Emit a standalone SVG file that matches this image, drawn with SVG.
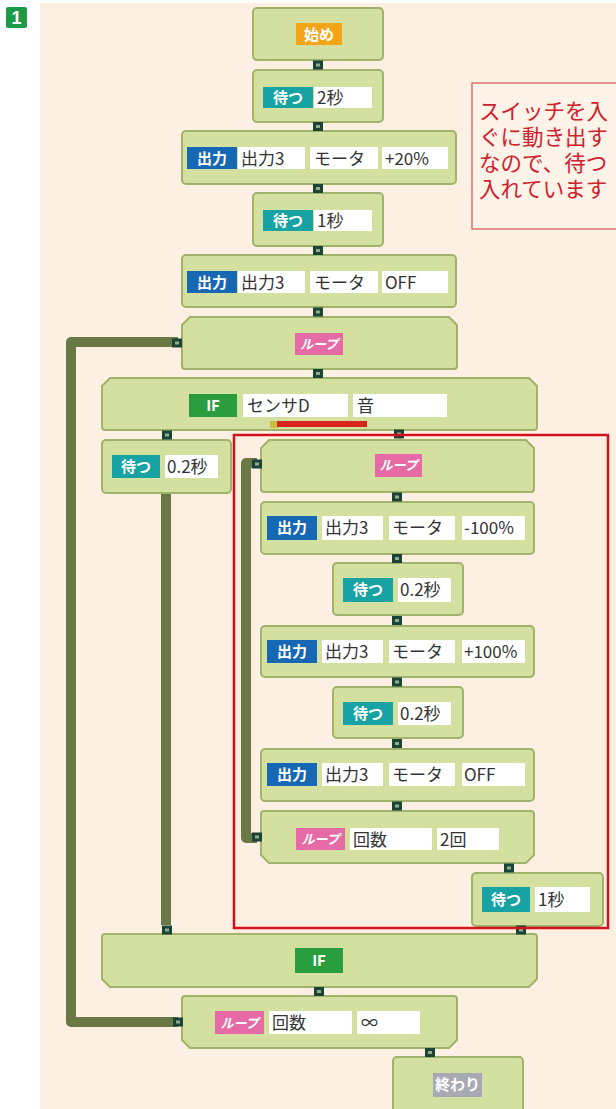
<svg xmlns="http://www.w3.org/2000/svg" xmlns:xlink="http://www.w3.org/1999/xlink" width="616" height="1109" viewBox="0 0 616 1109">
<defs>
<style>
.blk{fill:#d3e09f;stroke:#a0b36b;stroke-width:2}
.val{fill:#ffffff}
.vt{font-family:"Noto Sans CJK JP","Noto Sans",sans-serif;font-size:17px;fill:#333333}
.lt{font-family:"Noto Sans CJK JP","Noto Sans",sans-serif;font-size:15px;fill:#ffffff;font-weight:bold;text-anchor:middle}
.lp{font-size:13px;font-style:italic}
.wait{fill:#17a3a3}
.out{fill:#1668b4}
.loop{fill:#e66aa5}
.iff{fill:#2a9d3e}
.wire{fill:none;stroke:#687946;stroke-width:10;stroke-linejoin:round}
.note{font-family:"Noto Sans CJK JP","Noto Sans",sans-serif;font-size:21.5px;fill:#d0202a}
</style>
<g id="cn"><rect x="-5" y="-4.5" width="10" height="9" fill="#1b4436"/><rect x="-2" y="-1.5" width="4" height="3" fill="#8fb08f"/></g>
</defs>
<rect x="0" y="0" width="616" height="1109" fill="#ffffff"/>
<rect x="40" y="3" width="576" height="1106" fill="#fdf0e3"/>
<g id="badge"><rect x="6" y="7" width="21" height="21" rx="2" fill="#1d9a48"/><text x="16.5" y="24" font-family="Liberation Sans,sans-serif" font-size="18" font-weight="bold" fill="#fff" text-anchor="middle">1</text></g>

<g id="note">
<rect x="472" y="83" width="160" height="146" fill="#fdf3e9" stroke="#d35353" stroke-width="1.2"/>
<text class="note" x="479" y="119"><tspan x="479" y="119">スイッチを入</tspan><tspan x="479" y="145">ぐに動き出す</tspan><tspan x="479" y="171">なので、待つ</tspan><tspan x="479" y="197">入れています</tspan></text>
</g>

<g id="wires">
<path class="wire" d="M178,342 H71 V1022 H178"/>
<path class="wire" d="M166,493 V925"/>
<path class="wire" d="M257,463 H246 V838 H257"/>
</g>

<g id="b1"><rect class="blk" x="253" y="8" width="130" height="52" rx="4"/><rect x="296" y="23" width="46" height="22" fill="#f2a516"/><text class="lt" x="319" y="39.5" font-size="14">始め</text></g>

<g id="b2"><rect class="blk" x="253" y="70" width="130" height="52" rx="4"/><rect class="wait" x="263" y="87" width="50" height="21"/><text class="lt" x="288" y="103">待つ</text><rect class="val" x="314" y="87" width="58" height="21"/><text class="vt" x="317" y="104">2秒</text></g>

<g id="b3"><rect class="blk" x="182" y="131" width="274" height="53" rx="4"/><rect class="out" x="187" y="147" width="50" height="22"/><text class="lt" x="212" y="164">出力</text><rect class="val" x="238" y="147" width="67" height="22"/><text class="vt" x="241" y="165">出力3</text><rect class="val" x="310" y="147" width="68" height="22"/><text class="vt" x="314" y="165">モータ</text><rect class="val" x="382" y="147" width="66" height="22"/><text class="vt" x="385" y="165">+20%</text></g>

<g id="b4"><rect class="blk" x="253" y="193" width="130" height="53" rx="4"/><rect class="wait" x="263" y="210" width="50" height="21"/><text class="lt" x="288" y="226">待つ</text><rect class="val" x="314" y="210" width="58" height="21"/><text class="vt" x="317" y="227">1秒</text></g>

<g id="b5"><rect class="blk" x="182" y="255" width="274" height="52" rx="4"/><rect class="out" x="187" y="271" width="50" height="22"/><text class="lt" x="212" y="288">出力</text><rect class="val" x="238" y="271" width="67" height="22"/><text class="vt" x="241" y="289">出力3</text><rect class="val" x="310" y="271" width="68" height="22"/><text class="vt" x="314" y="289">モータ</text><rect class="val" x="382" y="271" width="66" height="22"/><text class="vt" x="385" y="289">OFF</text></g>

<g id="b6"><path class="blk" d="M182,325 L190,317 H449 L457,325 V366 Q457,369 454,369 H185 Q182,369 182,366 Z"/><rect class="loop" x="295" y="333" width="48" height="22"/><text class="lt lp" x="319" y="349">ループ</text></g>

<g id="b7"><path class="blk" d="M102,386 L110,378 H529 L537,386 V427 Q537,430 534,430 H105 Q102,430 102,427 Z"/><rect class="iff" x="189" y="394" width="48" height="23"/><text class="lt" x="213" y="411">IF</text><rect class="val" x="243" y="394" width="105" height="23"/><text class="vt" x="247" y="412">センサD</text><rect class="val" x="353" y="394" width="94" height="23"/><text class="vt" x="357" y="412">音</text><rect x="270" y="421" width="8" height="7" fill="#c8c040"/><rect x="277" y="421" width="90" height="6" fill="#d8261e"/></g>

<g id="b8"><rect class="blk" x="102" y="440" width="129" height="53" rx="4"/><rect class="wait" x="112" y="455" width="48" height="23"/><text class="lt" x="136" y="472">待つ</text><rect class="val" x="165" y="455" width="53" height="23"/><text class="vt" x="167" y="473">0.2秒</text></g>

<g id="b9"><path class="blk" d="M261,448 L269,440 H526 L534,448 V489 Q534,492 531,492 H264 Q261,492 261,489 Z"/><rect class="loop" x="375" y="454" width="47" height="23"/><text class="lt lp" x="398.5" y="470">ループ</text></g>

<g id="b10"><rect class="blk" x="261" y="502" width="273" height="52" rx="4"/><rect class="out" x="267" y="516" width="50" height="24"/><text class="lt" x="292" y="533">出力</text><rect class="val" x="322" y="516" width="61" height="24"/><text class="vt" x="325" y="534">出力3</text><rect class="val" x="389" y="516" width="66" height="24"/><text class="vt" x="392" y="534">モータ</text><rect class="val" x="462" y="516" width="63" height="24"/><text class="vt" x="464" y="534">-100%</text></g>

<g id="b11"><rect class="blk" x="333" y="563" width="130" height="52" rx="4"/><rect class="wait" x="343" y="578" width="50" height="24"/><text class="lt" x="368" y="595">待つ</text><rect class="val" x="398" y="578" width="53" height="24"/><text class="vt" x="400" y="596">0.2秒</text></g>

<g id="b12"><rect class="blk" x="261" y="626" width="273" height="51" rx="4"/><rect class="out" x="267" y="640" width="50" height="23"/><text class="lt" x="292" y="657">出力</text><rect class="val" x="322" y="640" width="61" height="23"/><text class="vt" x="325" y="658">出力3</text><rect class="val" x="389" y="640" width="66" height="23"/><text class="vt" x="392" y="658">モータ</text><rect class="val" x="462" y="640" width="63" height="23"/><text class="vt" x="464" y="658">+100%</text></g>

<g id="b13"><rect class="blk" x="333" y="687" width="130" height="51" rx="4"/><rect class="wait" x="343" y="702" width="50" height="23"/><text class="lt" x="368" y="719">待つ</text><rect class="val" x="398" y="702" width="53" height="23"/><text class="vt" x="400" y="720">0.2秒</text></g>

<g id="b14"><rect class="blk" x="261" y="749" width="273" height="52" rx="4"/><rect class="out" x="267" y="763" width="50" height="23"/><text class="lt" x="292" y="780">出力</text><rect class="val" x="322" y="763" width="61" height="23"/><text class="vt" x="325" y="781">出力3</text><rect class="val" x="389" y="763" width="66" height="23"/><text class="vt" x="392" y="781">モータ</text><rect class="val" x="462" y="763" width="63" height="23"/><text class="vt" x="464" y="781">OFF</text></g>

<g id="b15"><path class="blk" d="M261,814 Q261,811 264,811 H531 Q534,811 534,814 V855 L526,863 H269 L261,855 Z"/><rect class="loop" x="296" y="828" width="49" height="22"/><text class="lt lp" x="320.5" y="844">ループ</text><rect class="val" x="350" y="828" width="82" height="22"/><text class="vt" x="353" y="846">回数</text><rect class="val" x="437" y="828" width="62" height="22"/><text class="vt" x="440" y="846">2回</text></g>

<g id="b16"><rect class="blk" x="472" y="873" width="131" height="53" rx="4"/><rect class="wait" x="482" y="887" width="48" height="25"/><text class="lt" x="506" y="905">待つ</text><rect class="val" x="535" y="887" width="55" height="25"/><text class="vt" x="538" y="906">1秒</text></g>

<g id="b17"><path class="blk" d="M102,937 Q102,934 105,934 H534 Q537,934 537,937 V979 L529,987 H110 L102,979 Z"/><rect class="iff" x="295" y="948" width="48" height="25"/><text class="lt" x="319" y="966">IF</text></g>

<g id="b18"><path class="blk" d="M182,999 Q182,996 185,996 H454 Q457,996 457,999 V1040 L449,1048 H190 L182,1040 Z"/><rect class="loop" x="215" y="1011" width="49" height="23"/><text class="lt lp" x="239.5" y="1028">ループ</text><rect class="val" x="269" y="1011" width="83" height="23"/><text class="vt" x="272" y="1029">回数</text><rect class="val" x="357" y="1011" width="63" height="23"/><text class="vt" x="361" y="1029">∞</text></g>

<g id="b19"><rect class="blk" x="393" y="1057" width="130" height="62" rx="4"/><rect x="433" y="1073" width="49" height="24" fill="#a9a9b3"/><text class="lt" x="457.5" y="1090">終わり</text></g>

<g id="connectors">
<use xlink:href="#cn" x="318" y="65"/>
<use xlink:href="#cn" x="318" y="126.5"/>
<use xlink:href="#cn" x="318" y="188.5"/>
<use xlink:href="#cn" x="318" y="250.5"/>
<use xlink:href="#cn" x="318" y="312"/>
<use xlink:href="#cn" x="318" y="373.5"/>
<use xlink:href="#cn" x="177" y="343"/>
<use xlink:href="#cn" x="167" y="435"/>
<use xlink:href="#cn" x="399" y="434"/>
<use xlink:href="#cn" x="257" y="464"/>
<use xlink:href="#cn" x="397" y="497"/>
<use xlink:href="#cn" x="397" y="558.5"/>
<use xlink:href="#cn" x="397" y="620.5"/>
<use xlink:href="#cn" x="397" y="682"/>
<use xlink:href="#cn" x="397" y="743.5"/>
<use xlink:href="#cn" x="397" y="806"/>
<use xlink:href="#cn" x="257" y="837"/>
<use xlink:href="#cn" x="509" y="868"/>
<use xlink:href="#cn" x="521" y="930"/>
<use xlink:href="#cn" x="167" y="930"/>
<use xlink:href="#cn" x="319" y="991.5"/>
<use xlink:href="#cn" x="178" y="1022"/>
<use xlink:href="#cn" x="430" y="1052.5"/>
</g>

<rect id="highlight" x="234" y="435" width="374" height="493" fill="none" stroke="#d2121c" stroke-width="2.5"/>
</svg>
